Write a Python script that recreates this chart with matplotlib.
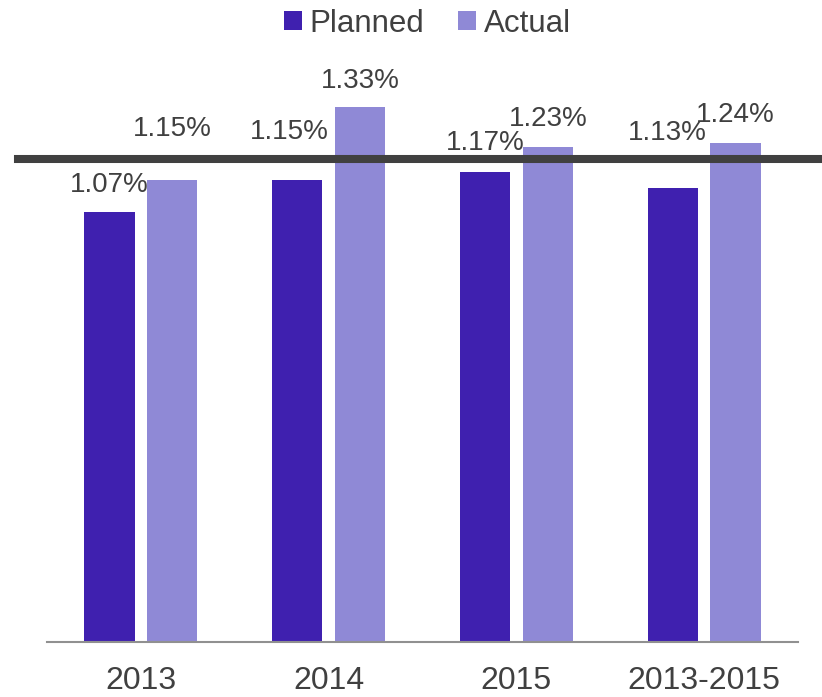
import matplotlib.pyplot as plt
import numpy as np

plt.rcParams['font.family'] = ['Liberation Sans', 'DejaVu Sans']

categories = ['2013', '2014', '2015', '2013-2015']
planned = [1.07, 1.15, 1.17, 1.13]
actual = [1.15, 1.33, 1.23, 1.24]
target = 1.2

# label offsets in pixels (dx, dy above bar top), mimicking the original placement
planned_offsets = [(0, 27), (-8, 48), (0, 29), (-6, 55)]
actual_offsets = [(0, 51), (0, 26), (0, 28), (0, 28)]

c_planned = '#3F20AF'
c_actual = '#8F89D6'
txt = '#404040'

fig = plt.figure(figsize=(8.22, 6.97), dpi=100)
ax = fig.add_axes([0.0572, 0.0789, 0.9137, 0.8077])

x = np.arange(len(categories))
width = 0.267
off = 0.167
b1 = ax.bar(x - off, planned, width, color=c_planned, label='Planned')
b2 = ax.bar(x + off, actual, width, color=c_actual, label='Actual')

for rects, vals, offs in [(b1, planned, planned_offsets), (b2, actual, actual_offsets)]:
    for r, v, (dx, dy) in zip(rects, vals, offs):
        ax.annotate(f'{v:.2f}%', (r.get_x() + r.get_width() / 2, v),
                    xytext=(dx, dy), textcoords='offset pixels',
                    ha='center', va='center', fontsize=20, color=txt)

ax.axhline(target, xmin=-0.0386, xmax=1.04, color='#404040', linewidth=5.8,
           clip_on=False, zorder=5)

ax.set_xlim(-0.5, 3.5)
ax.set_ylim(0, 1.4)
ax.set_xticks(x)
ax.set_xticklabels(categories, fontsize=23, color=txt)
ax.tick_params(axis='x', length=0, pad=17)
ax.set_yticks([])
for s in ['top', 'right', 'left']:
    ax.spines[s].set_visible(False)
ax.spines['bottom'].set_color('#909090')
ax.spines['bottom'].set_linewidth(1.5)

fig.legend(loc='center', bbox_to_anchor=(0.52, 0.966), ncol=2, frameon=False,
           fontsize=22.5, handlelength=0.55, handleheight=0.55, handletextpad=0.25,
           columnspacing=1.1, labelcolor=txt)

plt.savefig('out.png', dpi=100)
